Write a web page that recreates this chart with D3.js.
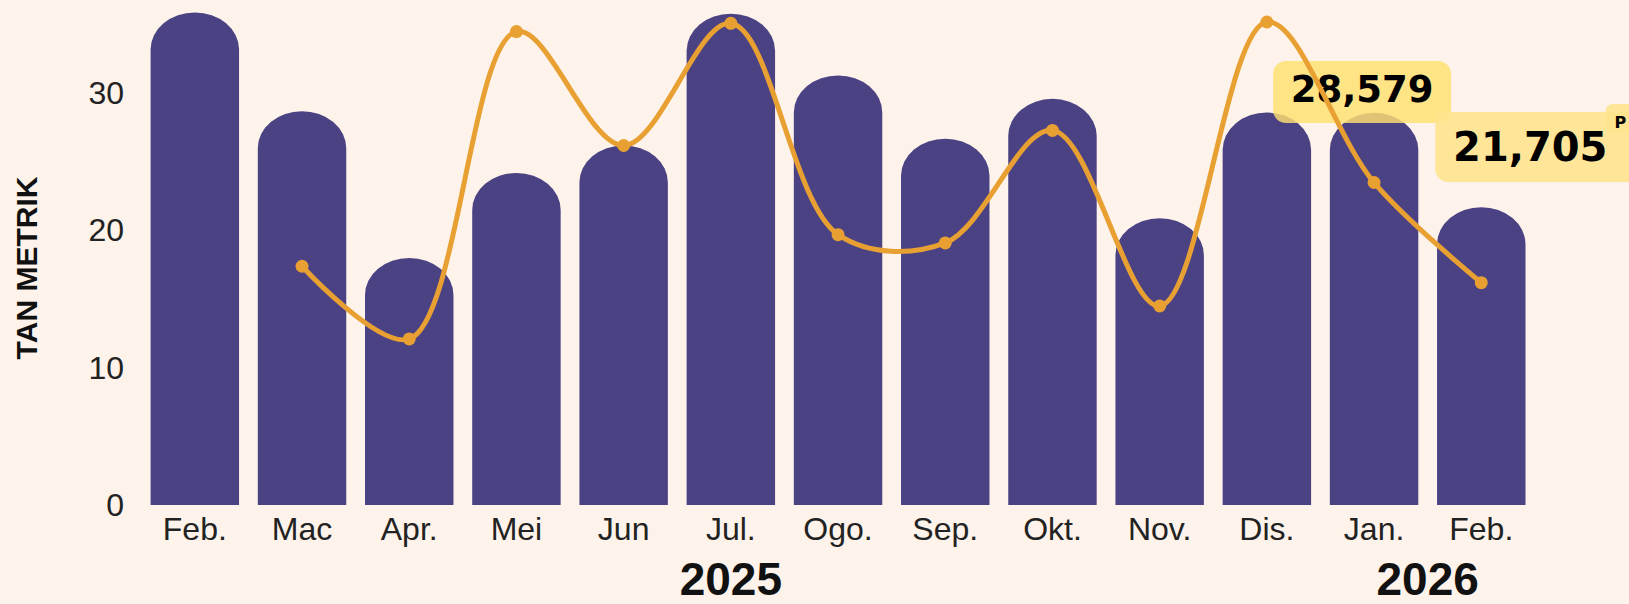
<!DOCTYPE html>
<html>
<head>
<meta charset="utf-8">
<script src="https://cdn.jsdelivr.net/npm/d3@7"></script>
<style>
  html, body { margin: 0; padding: 0; background: #fdf3ea; }
  svg { display: block; }
</style>
</head>
<body>
<svg width="1629" height="604"></svg>
<script>
// data (thousand tonnes)
var months = ["Feb.", "Mac", "Apr.", "Mei", "Jun", "Jul.", "Ogo.", "Sep.", "Okt.", "Nov.", "Dis.", "Jan.", "Feb."];
var years = [{label: "2025", from: 0, to: 10}, {label: "2026", from: 11, to: 12}];
var barValues = [35.9, 28.7, 18.0, 24.2, 26.2, 35.8, 31.3, 26.7, 29.6, 20.9, 28.6, 28.579, 21.705];
var lineValues = [null, 17.4, 12.1, 34.5, 26.2, 35.1, 19.7, 19.1, 27.3, 14.5, 35.2, 23.5, 16.2];
var yTicks = [0, 10, 20, 30];

var svg = d3.select("svg"),
    width = +svg.attr("width"),
    height = +svg.attr("height");

var keys = months.map(function(d, i) { return i; });

var x = d3.scaleBand()
    .domain(keys)
    .range([150.6, 1525.5])
    .paddingInner(0.175)
    .paddingOuter(0);

var y = d3.scaleLinear()
    .domain([0, 36])
    .range([505, 11]);

var cx = function(i) { return x(i) + x.bandwidth() / 2; };

// y axis
svg.append("g")
    .attr("transform", "translate(124,0)")
    .call(d3.axisLeft(y).tickValues(yTicks).tickSize(0).tickPadding(0))
    .call(function(g) { g.select(".domain").remove(); })
    .selectAll("text")
      .attr("font-family", "'Liberation Sans', Arial, sans-serif")
      .attr("font-size", 32)
      .attr("fill", "#222");

svg.append("text")
    .attr("transform", "translate(37,268) rotate(-90)")
    .attr("text-anchor", "middle")
    .attr("font-family", "'Liberation Sans', Arial, sans-serif")
    .attr("font-weight", "bold")
    .attr("font-size", 30)
    .attr("fill", "#111")
    .text("TAN METRIK");

// bars with rounded tops
svg.append("g").selectAll("path")
    .data(barValues)
    .enter().append("path")
      .attr("fill", "#4a4283")
      .attr("d", function(d, i) {
        var x0 = x(i), w = x.bandwidth(), top = y(d), base = y(0);
        var ry = Math.min(37, base - top);
        return "M" + x0 + "," + base + "V" + (top + ry) +
               "A" + (w / 2) + "," + ry + " 0 0 1 " + (x0 + w) + "," + (top + ry) +
               "V" + base + "Z";
      });

// x axis
svg.append("g")
    .attr("transform", "translate(0,505)")
    .call(d3.axisBottom(x).tickFormat(function(i) { return months[i]; }).tickSize(0).tickPadding(12))
    .call(function(g) { g.select(".domain").remove(); })
    .selectAll("text")
      .attr("font-family", "'Liberation Sans', Arial, sans-serif")
      .attr("font-size", 32)
      .attr("fill", "#222");

svg.append("g").selectAll("text")
    .data(years)
    .enter().append("text")
      .attr("x", function(d) { return (cx(d.from) + cx(d.to)) / 2; })
      .attr("y", 595)
      .attr("text-anchor", "middle")
      .attr("font-family", "'Liberation Sans', Arial, sans-serif")
      .attr("font-weight", "bold")
      .attr("font-size", 46)
      .attr("fill", "#111")
      .text(function(d) { return d.label; });

// callouts
var jan = 11, feb = 12;
var note = svg.append("g");
note.append("rect")
    .attr("x", cx(jan) - 101).attr("y", 61).attr("width", 178).attr("height", 62)
    .attr("rx", 13).attr("fill", "#ffe070").attr("fill-opacity", 0.82);
note.append("text")
    .attr("x", cx(jan) - 12).attr("y", 102)
    .attr("text-anchor", "middle")
    .attr("font-family", "'DejaVu Sans', sans-serif")
    .attr("font-weight", "bold")
    .attr("font-size", 37)
    .attr("fill", "#000")
    .text(d3.format(",")(Math.round(barValues[jan] * 1000)));

note.append("rect")
    .attr("x", cx(feb) - 46).attr("y", 112).attr("width", 220).attr("height", 70)
    .attr("rx", 13).attr("fill", "#ffe38f").attr("fill-opacity", 0.9);
note.append("rect")
    .attr("x", cx(feb) + 124).attr("y", 104).attr("width", 40).attr("height", 30)
    .attr("rx", 8).attr("fill", "#ffe38f").attr("fill-opacity", 0.9);
note.append("text")
    .attr("x", cx(feb) + 49).attr("y", 161)
    .attr("text-anchor", "middle")
    .attr("font-family", "'DejaVu Sans', sans-serif")
    .attr("font-weight", "bold")
    .attr("font-size", 40)
    .attr("fill", "#000")
    .text(d3.format(",")(Math.round(barValues[feb] * 1000)));
note.append("text")
    .attr("x", cx(feb) + 139).attr("y", 128)
    .attr("text-anchor", "middle")
    .attr("font-family", "'DejaVu Sans', sans-serif")
    .attr("font-weight", "bold")
    .attr("font-size", 16)
    .attr("fill", "#000")
    .text("P");

// line series
var line = d3.line()
    .defined(function(d) { return d != null; })
    .x(function(d, i) { return cx(i); })
    .y(function(d) { return y(d); })
    .curve(d3.curveCatmullRom.alpha(0.5));

svg.append("path")
    .datum(lineValues)
    .attr("fill", "none")
    .attr("stroke", "#e9a032")
    .attr("stroke-width", 5)
    .attr("d", line);

svg.append("g").selectAll("circle")
    .data(lineValues.map(function(v, i) { return {v: v, i: i}; }).filter(function(d) { return d.v != null; }))
    .enter().append("circle")
      .attr("cx", function(d) { return cx(d.i); })
      .attr("cy", function(d) { return y(d.v); })
      .attr("r", 6.5)
      .attr("fill", "#e9a032");
</script>
</body>
</html>
